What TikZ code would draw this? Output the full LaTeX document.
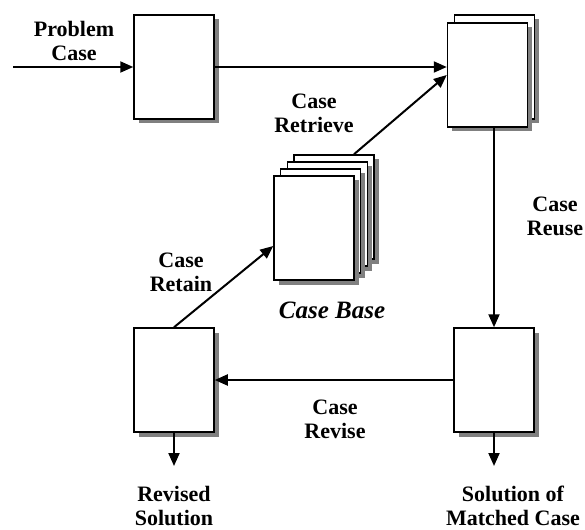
\documentclass[tikz,border=0pt]{standalone}
\usepackage{fontspec}
\setmainfont{Liberation Serif}
\usetikzlibrary{arrows.meta,shadows}
\tikzset{
	sheet/.style={draw, fill=white, line width=1.5pt, minimum width=80pt, minimum height=104pt, inner sep=0pt,
		drop shadow={shadow xshift=4.5pt, shadow yshift=-4.5pt, fill=black!50, opacity=1}},
	flow/.style={line width=2pt, -{Triangle[length=13pt, width=11pt]}},
	caption/.style={font=\bfseries\fontsize{22}{24}\selectfont, align=center, inner sep=0pt}
}

\begin{document}
\begin{tikzpicture}[x=1pt, y=-1pt]
		%%%%% START %%%%%
		\useasboundingbox (0, 0) rectangle (585, 529);
		
		% boxes
		\node[sheet] (select) at (174, 67) {};
		\node[sheet] (matchback) at (494.5, 67) {};
		\node[sheet] (match) at (487.5, 75) {};
		\node[sheet] (reused) at (494, 380) {};
		\node[sheet] (revised) at (174, 380) {};
		
		% the stack of stored cases
		\node[sheet] (base4) at (334, 207) {};
		\node[sheet] (base3) at (327.3, 214) {};
		\node[sheet] (base2) at (320.7, 221) {};
		\node[sheet] (base1) at (314, 228) {};
		
		\coordinate (in) at (13, 67);
		\coordinate (out1) at (174, 466);
		\coordinate (out2) at (494, 466);
		
		% connectors
		\draw[flow] (in) -- (select.west);
		\draw[flow] (select.east) -- (select.east -| match.west);
		\draw[flow] ([xshift=20pt]base4.north) -- (match.west);
		\draw[flow] (reused.north |- match.south) -- (reused.north);
		\draw[flow] (reused.west) -- (revised.east);
		\draw[flow] (revised.north) -- ([yshift=-18pt]base1.west);
		\draw[flow] (revised.south) -- (out1);
		\draw[flow] (reused.south) -- (out2);
		
		% labels
		\node[caption] (problem) at (74, 41) {Problem\\Case};
		\node[caption] (retrieve) at (314, 113) {Case\\Retrieve};
		\node[caption] (reuse) at (555, 216) {Case\\Reuse};
		\node[caption] (retain) at (181, 272) {Case\\Retain};
		\node[caption, font=\bfseries\itshape\fontsize{25}{28}\selectfont] (casebase) at (332, 310) {Case Base};
		\node[caption] (revise) at (335, 419) {Case\\Revise};
		\node[caption] (revsol) at (174, 506) {Revised\\Solution};
		\node[caption] (matchsol) at (513, 506) {Solution of\\Matched Case};
		%%%%% END %%%%%
	\end{tikzpicture}
\end{document}
